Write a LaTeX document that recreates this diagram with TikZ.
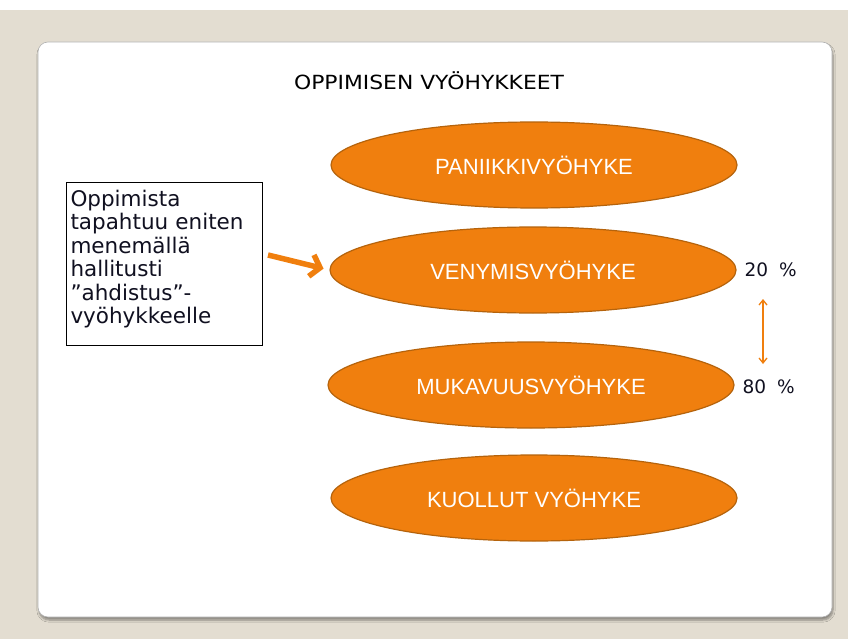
\documentclass[tikz,border=0pt]{standalone}
\usepackage{fontspec}
\setmainfont{DejaVu Sans}
\newfontfamily\zonefont{Liberation Sans}
\usetikzlibrary{shapes.geometric,arrows.meta,shadows.blur}
\definecolor{pagebg}{HTML}{E3DDD1}
\definecolor{zonefill}{HTML}{F07F0E}
\definecolor{zoneline}{HTML}{B5630C}
\definecolor{inktext}{HTML}{101020}
\tikzset{
  zone/.style={ellipse, fill=zonefill, draw=zoneline, line width=1.2pt,
    minimum width=406pt, minimum height=86pt, inner sep=0pt,
    text=white, font=\zonefont\fontsize{22}{24}\selectfont},
  pct/.style={text=inktext, font=\fontsize{18.5}{21}\selectfont, anchor=west},
  notebox/.style={draw=black, line width=1pt, text=inktext, align=left,
    minimum width=196pt, minimum height=163pt, text width=188pt,
    inner xsep=4pt, inner ysep=4pt,
    font=\fontsize{21.5}{23.5}\selectfont, anchor=north west},
}
\begin{document}
\begin{tikzpicture}[x=1pt,y=-1pt]
  \useasboundingbox (0,0) rectangle (848,639);
  % page background
  \fill[white] (0,0) rectangle (848,639);
  \fill[pagebg] (0,10) rectangle (848,639);
  % card with soft shadow
  \fill[white, draw=black!30, line width=0.6pt, rounded corners=10pt,
        blur shadow={shadow xshift=1pt, shadow yshift=-3pt, shadow blur steps=6}]
        (38,42) rectangle (832,617);
  % title
  \node[text=black, font=\fontsize{19.5}{22}\selectfont, xscale=1.12] (title) at (429,81) {OPPIMISEN VYÖHYKKEET};
  % zones
  \node[zone] (panic)   at (534,165) {PANIIKKIVYÖHYKE};
  \node[zone] (stretch) at (533,270) {VENYMISVYÖHYKE};
  \node[zone] (comfort) at (531,385) {MUKAVUUSVYÖHYKE};
  \node[zone] (dead)    at (534,498) {KUOLLUT VYÖHYKE};
  % percentages
  \node[pct] (p20) at (741,270) {20\hspace{0.6em}\%};
  \node[pct] (p80) at (739,387) {80\hspace{0.6em}\%};
  \draw[{Straight Barb[length=5pt,width=8pt]}-{Straight Barb[length=5pt,width=8pt]},
        draw=zonefill, line width=1.3pt] (763,299) -- (763,364);
  % note box
  \node[notebox] (note) at (66,182) {Oppimista\\tapahtuu eniten\\menemällä\\hallitusti\\”ahdistus”-\\vyöhykkeelle\par\vspace{10pt}};
  \coordinate (arrowstart) at (268,255);
  \draw[-{Straight Barb[length=9pt,width=22pt]}, draw=zonefill, line width=5.5pt,
        shorten >=6pt] (arrowstart) -- (stretch.west);
\end{tikzpicture}
\end{document}
